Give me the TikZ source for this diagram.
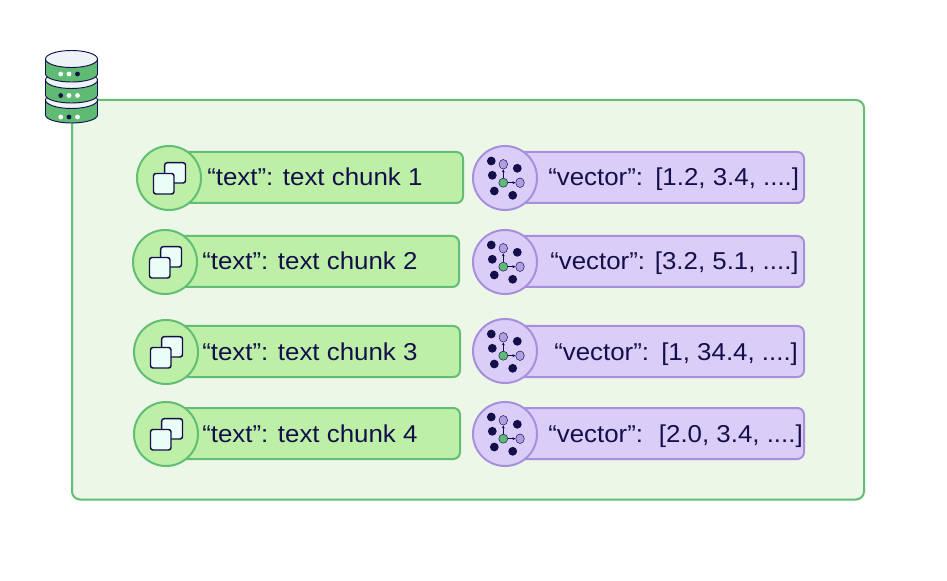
\documentclass[tikz,border=0pt]{standalone}
\usepackage{fontspec}
\usetikzlibrary{arrows.meta}
\setmainfont[FakeStretch=1.06]{Liberation Sans}
\definecolor{navy}{HTML}{140F4B}
\definecolor{gline}{HTML}{62BE74}
\definecolor{gfill}{HTML}{BDF0A6}
\definecolor{panel}{HTML}{ECF7E8}
\definecolor{pline}{HTML}{A78FDC}
\definecolor{pfill}{HTML}{DACEF8}
\definecolor{pdot}{HTML}{B09EE0}
\definecolor{dbgreen}{HTML}{5FBB73}
\definecolor{dblight}{HTML}{EDF3F7}
\definecolor{sqfill}{HTML}{EAFDF6}
\tikzset{
  panelbox/.style={draw=gline,fill=panel,line width=1.5pt,rounded corners=6pt},
  greenbar/.style={draw=gline,fill=gfill,line width=1.5pt,rounded corners=5pt},
  purplebar/.style={draw=pline,fill=pfill,line width=1.5pt,rounded corners=5pt},
  greencirc/.style={draw=gline,fill=gfill,line width=1.5pt},
  purplecirc/.style={draw=pline,fill=pfill,line width=1.5pt},
  square/.style={draw=navy,fill=sqfill,line width=1.1pt,rounded corners=1.8pt},
  label/.style={anchor=base west,inner sep=0pt,text=navy,font=\fontsize{18.3}{22}\selectfont},
  dot/.style={fill=navy},
  disk/.style={draw=navy,line width=0.7pt},
  tinyarrow/.style={navy,line width=0.4pt,-{Stealth[length=2.2pt,width=2.2pt]}},
}
\newcommand{\textrow}[6]{% name, barleft, barright, top, bottom, cx/cy
  \draw[greenbar] (#2,#4) rectangle (#3,#5);
  \node[greencirc,circle,minimum size=48pt,inner sep=0pt] (#1) at (#6) {};
  \begin{scope}[shift={(#1.center)}]
    \draw[square] (-4.3,-15.3) rectangle (16.5,5);
    \draw[square] (-15.5,-4.5) rectangle (5,16);
  \end{scope}
}
\newcommand{\vecicon}[2]{%
  \node[purplecirc,circle,minimum size=48pt,inner sep=0pt] (#1) at (#2) {};
  \begin{scope}[shift={(#1.center)}]
    \fill[dot] (-13.7,-17) circle (3.3pt);
    \fill[dot] (-12.7,-2.7) circle (3.3pt);
    \fill[dot] (-10.7,13) circle (3.3pt);
    \fill[dot] (7.7,17.3) circle (3.3pt);
    \fill[dot] (12.3,-9.7) circle (3.3pt);
    \draw[tinyarrow] (-1.7,4.7) -- (-1.7,-8.6);
    \draw[tinyarrow] (-1.7,4.7) -- (10.4,4.7);
    \filldraw[fill=pdot,draw=navy,line width=0.35pt] (-1.7,-13.7) ellipse (3.2pt and 3.6pt);
    \filldraw[fill=pdot,draw=navy,line width=0.35pt] (15,4.7) ellipse (3.2pt and 3.6pt);
    \filldraw[fill=dbgreen,draw=navy,line width=0.35pt] (-1.7,4.7) circle (3.4pt);
  \end{scope}
}
\newcommand{\dbdisk}[2]{% top centre y, bottom centre y
  \draw[disk,fill=dbgreen] (45.5,#1) -- (45.5,#2) arc[start angle=180,end angle=0,x radius=26,y radius=8] -- (97.5,#1) -- cycle;
  \draw[disk,fill=dblight] (71.5,#1) ellipse[x radius=26,y radius=8.5];
}
\begin{document}
\begin{tikzpicture}[x=0.75pt,y=-0.75pt]
\useasboundingbox (0,0) rectangle (947,581);
\draw[panelbox] (72,100) rectangle (864,499.5);

% database
\dbdisk{100}{115}
\dbdisk{80}{95}
\dbdisk{59}{74}
\foreach \x/\y/\c in {60.7/74/white,69/74/white,77.5/74/navy,
                      60.7/95.5/navy,69/95.5/white,77.5/95.5/white,
                      60.7/117/white,69/117/navy,77.5/117/white}
  \fill[\c] (\x,\y) circle (1.8pt);

% text rows
\textrow{t1}{175}{463}{152}{203}{169,178}
\textrow{t2}{170}{459}{236}{287}{165,262}
\textrow{t3}{170}{460}{326}{377}{166,352}
\textrow{t4}{170}{460}{408}{459}{166,434}
\node[label] (l1) at (207,186) {“text”: text chunk 1};
\node[label] (l2) at (202,270) {“text”: text chunk 2};
\node[label] (l3) at (202,360) {“text”: text chunk 3};
\node[label] (l4) at (202,442) {“text”: text chunk 4};

% vector rows
\draw[purplebar] (510,152) rectangle (804,203);
\draw[purplebar] (510,236) rectangle (804,287);
\draw[purplebar] (510,326) rectangle (804,377);
\draw[purplebar] (510,408) rectangle (804,459);
\vecicon{v1}{505,178}
\vecicon{v2}{505,262}
\vecicon{v3}{505,351}
\vecicon{v4}{505,434}
\node[label] (w1) at (548,186) {“vector”:\hspace{0.5em}[1.2, 3.4, ....]};
\node[label] (w2) at (550,270) {“vector”:\hspace{0.4em}[3.2, 5.1, ....]};
\node[label] (w3) at (554,360) {“vector”:\hspace{0.5em}[1, 34.4, ....]};
\node[label] (w4) at (548,442) {“vector”:\hspace{0.65em}[2.0, 3.4, ....]};
\end{tikzpicture}
\end{document}
